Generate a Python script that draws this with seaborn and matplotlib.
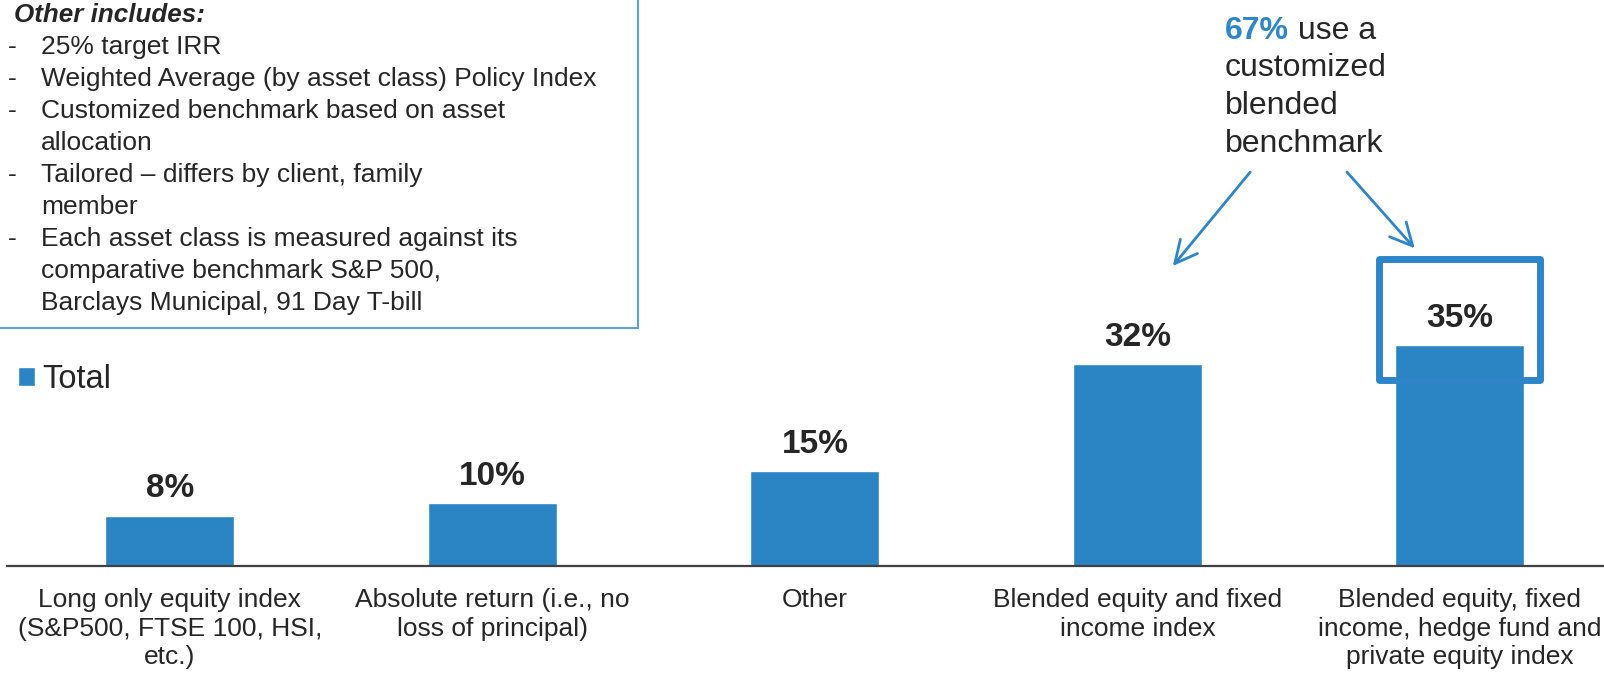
import matplotlib
matplotlib.use("Agg")
import matplotlib.pyplot as plt
from matplotlib.patches import Rectangle
import seaborn as sns
import pandas as pd

# --- data -------------------------------------------------------------
categories = [
    "Long only equity index\n(S&P500, FTSE 100, HSI,\netc.)",
    "Absolute return (i.e., no\nloss of principal)",
    "Other",
    "Blended equity and fixed\nincome index",
    "Blended equity, fixed\nincome, hedge fund and\nprivate equity index",
]
values = [8, 10, 15, 32, 35]
series_name = "Total"

other_header = "Other includes:"
other_items = [
    ["25% target IRR"],
    ["Weighted Average (by asset class) Policy Index"],
    ["Customized benchmark based on asset", "allocation"],
    ["Tailored \u2013 differs by client, family", "member"],
    ["Each asset class is measured against its",
     "comparative benchmark S&P 500,",
     "Barclays Municipal, 91 Day T-bill"],
]
callout_share = "67%"
callout_lines = [" use a", "customized", "blended", "benchmark"]

# --- style ------------------------------------------------------------
sns.set_style("white")
plt.rcParams["font.family"] = ["Liberation Sans", "DejaVu Sans"]
BAR = "#2B84C4"
ACCENT = "#2E86C8"
FRAME = "#5AA2D8"
TEXT = "#262626"

W, H = 1604, 674
fig = plt.figure(figsize=(W / 100, H / 100), dpi=100)
base_px = 566
ax = fig.add_axes([7 / W, (H - base_px) / H, (W - 7) / W, base_px / H])

df = pd.DataFrame({"category": categories, "value": values,
                   "series": [series_name] * len(values)})
sns.barplot(data=df, x="category", y="value", hue="series",
            palette={series_name: BAR}, width=0.4, dodge=False,
            saturation=1, ax=ax, legend=True)

ax.set_xlim(-0.505, 4.447)
ax.set_ylim(0, 89.8)
ax.set_xlabel("")
ax.set_ylabel("")
ax.set_yticks([])
for s in ("left", "right", "top"):
    ax.spines[s].set_visible(False)
ax.spines["bottom"].set_color("#404040")
ax.spines["bottom"].set_linewidth(1.6)
ax.tick_params(axis="x", length=0, pad=16, labelsize=19, labelcolor=TEXT)
for lab in ax.get_xticklabels():
    lab.set_linespacing(1.24)

# value labels
for cont in ax.containers:
    ax.bar_label(cont, labels=[f"{v:.0f}%" for v in cont.datavalues],
                 padding=8, fontsize=24, fontweight="bold", color=TEXT)

# legend
handles, labels = ax.get_legend_handles_labels()
ax.legend(handles, labels, loc="center left",
          bbox_to_anchor=(18 / W, 1 - 380 / H), bbox_transform=fig.transFigure,
          frameon=False, fontsize=23.5, handlelength=0.52, handleheight=0.52,
          handletextpad=0.22, borderpad=0, borderaxespad=0, labelcolor=TEXT)

# highlight frame around the last bar
hl_x = len(values) - 1
frame = Rectangle((hl_x - 0.25, 29.5), 0.5, 19.2, fill=False,
                  edgecolor=ACCENT, linewidth=5, joinstyle="round",
                  zorder=1)
ax.add_patch(frame)

# arrows from the callout to the blended bars
arrow_kw = dict(arrowstyle="->", color=ACCENT, lw=2, mutation_scale=40,
                shrinkA=0, shrinkB=0)
ax.annotate("", xy=(3.11, 47.6), xytext=(3.35, 62.5), arrowprops=arrow_kw)
ax.annotate("", xy=(3.86, 50.4), xytext=(3.65, 62.5), arrowprops=arrow_kw)

# callout text
fx = 1225 / W
line_px = [31, 68.5, 106, 143.5]
t0 = fig.text(fx, 1 - line_px[0] / H, callout_share, fontsize=23,
              fontweight="bold", color=ACCENT, va="center", ha="left")
fig.canvas.draw()
bb = t0.get_window_extent()
fig.text(bb.x1 / W, 1 - line_px[0] / H, callout_lines[0], fontsize=23,
         color=TEXT, va="center", ha="left")
for txt, yp in zip(callout_lines[1:], line_px[1:]):
    fig.text(fx, 1 - yp / H, txt, fontsize=23, color=TEXT,
             va="center", ha="left")

# notes box in the upper left
fig.add_artist(Rectangle((-0.01, 1 - 328 / H), 0.01 + 638 / W, 328 / H + 0.02,
                         transform=fig.transFigure, fill=False,
                         edgecolor=FRAME, linewidth=1.5))
step = 32.0
y = 15.0
fig.text(14 / W, 1 - y / H, other_header, fontsize=18.7, fontweight="bold",
         fontstyle="italic", color=TEXT, va="center", ha="left")
for item in other_items:
    for k, line in enumerate(item):
        y += step
        if k == 0:
            fig.text(8 / W, 1 - y / H, "-", fontsize=19, color=TEXT,
                     va="center", ha="left")
        fig.text(41 / W, 1 - y / H, line, fontsize=19, color=TEXT,
                 va="center", ha="left")

fig.savefig("out.png", dpi=100)
